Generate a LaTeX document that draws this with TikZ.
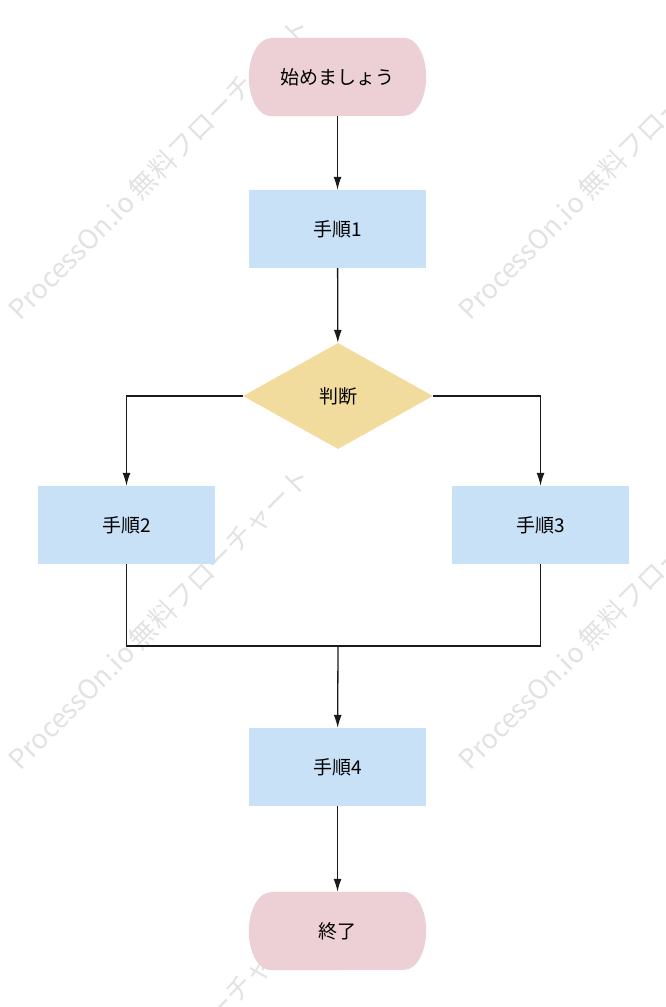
\documentclass[tikz,border=0pt]{standalone}
\usepackage{fontspec}
\setmainfont{Noto Sans CJK JP}
\usetikzlibrary{arrows.meta,shapes.geometric,calc,backgrounds}
\definecolor{startpink}{HTML}{EDD0D5}
\definecolor{stepblue}{HTML}{C8E1F7}
\definecolor{decyellow}{HTML}{F1DB9D}
\definecolor{wmgray}{HTML}{E2E2E2}
\definecolor{linegray}{HTML}{1A1A1A}
\tikzset{
  labelfont/.style={font=\fontsize{19}{21}\selectfont},
  terminal/.style={rectangle, minimum width=177pt, minimum height=78pt, inner sep=0pt, labelfont},
  stepbox/.style={rectangle, fill=stepblue, minimum width=177pt, minimum height=78pt, inner sep=0pt, labelfont},
  decision/.style={diamond, aspect=1.8, fill=decyellow, minimum width=190pt, minimum height=106pt, inner sep=0pt, labelfont},
  conn/.style={draw=linegray, line width=1.3pt, -{Latex[length=13pt,width=8pt]}},
  plainconn/.style={draw=linegray, line width=1.3pt},
  watermark/.style={text=wmgray, rotate=45, anchor=base west, inner sep=0pt, font=\fontsize{27}{29}\selectfont}
}
\newcommand{\terminalfill}[1]{%
  \fill[startpink] ($(#1.north west)+(22,0)$) -- ($(#1.north east)+(-22,0)$)
    arc[start angle=90, end angle=-90, x radius=22pt, y radius=39pt]
    -- ($(#1.south west)+(22,0)$)
    arc[start angle=270, end angle=90, x radius=22pt, y radius=39pt] -- cycle;}
\begin{document}
\begin{tikzpicture}[x=1pt,y=-1pt]
\useasboundingbox (0,0) rectangle (666,1007);
\begin{scope}[on background layer]
\clip (0,0) rectangle (666,1007);
\foreach \px/\py in {20/322, 470/322, 20/772, 470/772, 20/1222, 470/1222}{
  \node[watermark] at (\px,\py) {ProcessOn.io 無料フローチャート};
}
\end{scope}
\node[terminal] (start) at (337.5,77) {始めましょう};
\node[stepbox] (s1) at (337.5,229) {手順1};
\node[decision] (dec) at (338,396) {判断};
\node[stepbox] (s2) at (126.5,525) {手順2};
\node[stepbox] (s3) at (540.5,525) {手順3};
\node[stepbox] (s4) at (337.5,767) {手順4};
\node[terminal] (end) at (337.5,931) {終了};
\begin{scope}[on background layer]
\terminalfill{start}
\terminalfill{end}
\end{scope}
\coordinate (merge) at (338,646);
\draw[conn] (start) -- (s1);
\draw[conn] (s1) -- (dec);
\draw[conn] (dec.west) -| (s2.north);
\draw[conn] (dec.east) -| (s3.north);
\draw[plainconn] (s2.south) |- (merge) -| (s3.south);
\draw[conn] (merge) -- (s4);
\draw[conn] (s4) -- (end);
\end{tikzpicture}
\end{document}
